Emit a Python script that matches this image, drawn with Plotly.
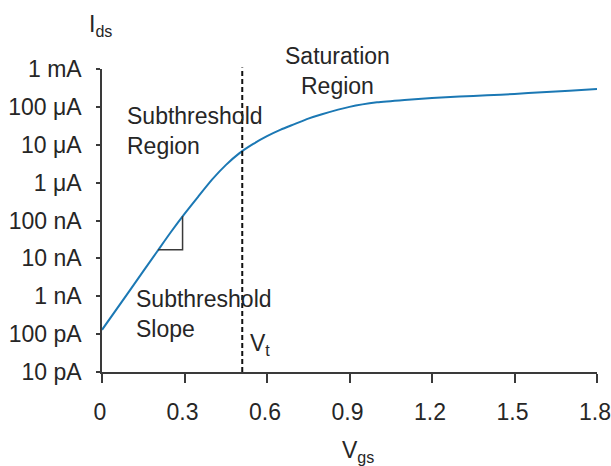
import plotly.graph_objects as go

# Data
vgs = [0.0, 0.1, 0.2, 0.25, 0.3, 0.35, 0.4, 0.45, 0.5, 0.55, 0.6, 0.65, 0.7, 0.75, 0.8,
       0.9, 1.0, 1.1, 1.2, 1.3, 1.4, 1.5, 1.6, 1.7, 1.8]
ids = [1.3e-10, 1.39e-9, 1.5e-8, 4.9e-8, 1.5e-7, 4.3e-7, 1.2e-6, 2.9e-6, 6.0e-6, 1.05e-5,
       1.68e-5, 2.5e-5, 3.5e-5, 4.9e-5, 6.4e-5,
       1.0e-4, 1.32e-4, 1.53e-4, 1.71e-4, 1.87e-4, 2.02e-4, 2.19e-4, 2.45e-4, 2.65e-4, 2.96e-4]

tri_x = [0.204, 0.293, 0.293]
tri_y = [1.7e-8, 1.7e-8, 1.3e-7]

vt = 0.51

ytick_vals = [1e-11, 1e-10, 1e-9, 1e-8, 1e-7, 1e-6, 1e-5, 1e-4, 1e-3]
ytick_text = ["10 pA", "100 pA", "1 nA", "10 nA", "100 nA", "1 μA", "10 μA", "100 μA", "1 mA"]
xtick_vals = [0, 0.3, 0.6, 0.9, 1.2, 1.5, 1.8]
xtick_text = ["0", "0.3", "0.6", "0.9", "1.2", "1.5", "1.8"]

FONT = "Liberation Sans, Arial, sans-serif"
TXT = "#262626"
AX = "#3a3a3a"
BLUE = "#1b78b4"
FS = 23

fig = go.Figure()
fig.add_trace(go.Scatter(x=vgs, y=ids, mode="lines", line=dict(color=BLUE, width=2, shape="spline", smoothing=0.6),
                         showlegend=False, hoverinfo="skip", cliponaxis=False))
fig.add_trace(go.Scatter(x=tri_x, y=tri_y, mode="lines", line=dict(color=AX, width=1.5),
                         showlegend=False, hoverinfo="skip"))

fig.add_shape(type="line", xref="x", yref="paper", x0=vt, x1=vt, y0=0, y1=1.005,
              line=dict(color="#111111", width=2, dash="5px,3px"))

ann = dict(showarrow=False, font=dict(family=FONT, size=FS, color=TXT))
fig.add_annotation(x=0.855, y=-3.053, text="Saturation<br>Region", xanchor="center", yanchor="middle", align="center", **ann)
fig.add_annotation(x=0.085, y=-4.64, text="Subthreshold<br>Region", xanchor="left", yanchor="middle", align="left", **ann)
fig.add_annotation(x=0.115, y=-9.47, text="Subthreshold<br>Slope", xanchor="left", yanchor="middle", align="left", **ann)
fig.add_annotation(x=0.53, y=-10.28, text="V<sub>t</sub>", xanchor="left", yanchor="middle", **ann)
fig.add_annotation(x=1.432, y=-2.93, text="V<sub>ds</sub> = 1.8", xanchor="left", yanchor="middle",
                   showarrow=False, font=dict(family=FONT, size=FS, color=BLUE))
fig.add_annotation(xref="paper", yref="paper", x=-0.03, y=1.145, text="I<sub>ds</sub>", xanchor="left", yanchor="middle", **ann)
fig.add_annotation(xref="paper", yref="paper", x=0.517, y=-0.262, text="V<sub>gs</sub>", xanchor="center", yanchor="middle", **ann)

fig.update_layout(
    width=611, height=466,
    margin=dict(l=102, r=14, t=69, b=94),
    paper_bgcolor="white", plot_bgcolor="white",
    font=dict(family=FONT, size=FS, color=TXT),
    xaxis=dict(range=[0, 1.8], tickvals=xtick_vals, ticktext=xtick_text, showgrid=False, zeroline=False,
               showline=True, linecolor=AX, linewidth=1.5, ticks="outside", ticklen=9, tickwidth=1.5,
               tickcolor=AX, ticklabelstandoff=10, ticklabelshift=-2, automargin=False, ticklabeloverflow="allow",
               tickfont=dict(family=FONT, size=FS, color=TXT)),
    yaxis=dict(type="log", range=[-11, -3], tickvals=ytick_vals, ticktext=ytick_text, showgrid=False,
               zeroline=False, showline=True, linecolor=AX, linewidth=1.5, ticks="outside", ticklen=4,
               tickwidth=1.5, tickcolor=AX, ticklabelstandoff=10, automargin=False,
               tickfont=dict(family=FONT, size=FS, color=TXT)),
)

# remove the browser's default 8px body margin so the figure sits at the page origin
fig.write_html("out.html", config={"displayModeBar": False},
               post_script="document.body.style.margin='0';document.body.style.overflow='hidden';")
